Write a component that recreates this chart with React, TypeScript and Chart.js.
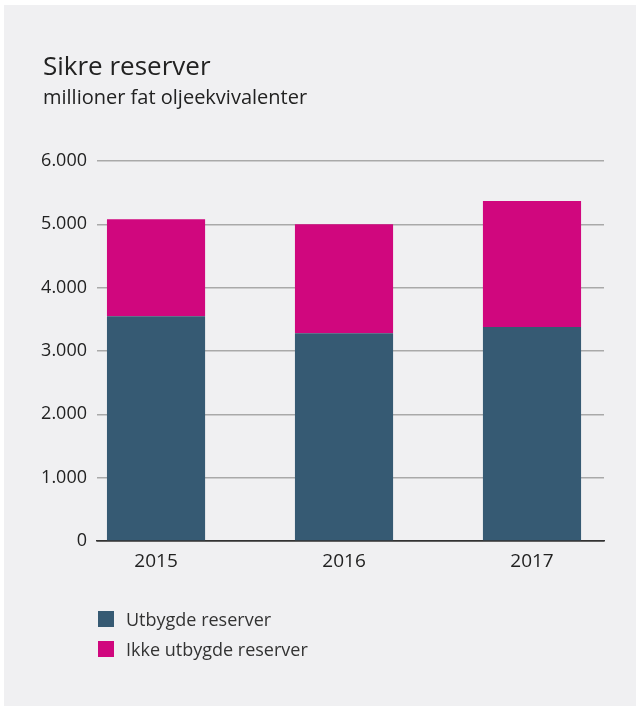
import React, { useEffect, useRef } from "react";
import { Chart, registerables } from "chart.js";

Chart.register(...registerables);

const title = "Sikre reserver";
const subtitle = "millioner fat oljeekvivalenter";
const categories = ["2015", "2016", "2017"];
const seriesNames = ["Utbygde reserver", "Ikke utbygde reserver"];
const utbygde = [3550, 3280, 3380];
const ikkeUtbygde = [1530, 1720, 1990];
const yTicks = [0, 1000, 2000, 3000, 4000, 5000, 6000];
const colors = ["#365a73", "#d0077e"];

const FONT = "'Open Sans', 'DejaVu Sans', sans-serif";

function fmt(v: number): string {
  return String(v).replace(/\B(?=(\d{3})+(?!\d))/g, ".");
}

export default function App() {
  const ref = useRef<HTMLCanvasElement | null>(null);

  useEffect(() => {
    if (!ref.current) return;
    const xs = categories.map((c) => Number(c));
    const chart = new Chart(ref.current, {
      type: "bar",
      data: {
        datasets: [
          {
            label: seriesNames[0],
            data: xs.map((x, i) => ({ x, y: utbygde[i] })),
            backgroundColor: colors[0],
            borderWidth: 0,
            categoryPercentage: 1,
            barPercentage: 0.522,
          },
          {
            label: seriesNames[1],
            data: xs.map((x, i) => ({ x, y: ikkeUtbygde[i] })),
            backgroundColor: colors[1],
            borderWidth: 0,
            categoryPercentage: 1,
            barPercentage: 0.522,
          },
        ],
      },
      options: {
        animation: false,
        responsive: false,
        maintainAspectRatio: false,
        layout: { padding: { left: 0, right: 32, top: 161, bottom: 0 } },
        plugins: {
          legend: { display: false },
          tooltip: { enabled: false },
          title: { display: false },
        },
        scales: {
          x: {
            type: "linear",
            stacked: true,
            offset: false,
            min: 2014.686,
            max: 2017.383,
            afterBuildTicks: (s: any) => {
              s.ticks = xs.map((v) => ({ value: v }));
            },
            afterFit: (s: any) => {
              s.height = 170;
            },
            ticks: {
              callback: (v: any) => {
                const i = xs.indexOf(Number(v));
                return i >= 0 ? categories[i] : "";
              },
              font: { family: FONT, size: 19 },
              color: "#222",
              padding: 9,
              maxRotation: 0,
              autoSkip: false,
            },
            grid: { display: false, drawTicks: false },
            border: { display: true, color: "#333", width: 1.5 },
          },
          y: {
            stacked: true,
            min: 0,
            max: 6000,
            afterBuildTicks: (s: any) => {
              s.ticks = yTicks.map((v) => ({ value: v }));
            },
            afterFit: (s: any) => {
              s.width = 97;
            },
            ticks: {
              callback: (v: any) => fmt(Number(v)),
              font: { family: FONT, size: 18 },
              color: "#222",
              padding: 10,
            },
            grid: {
              drawTicks: false,
              color: (ctx: any) => (ctx.tick && ctx.tick.value === 0 ? "#333" : "#a9a9a9"),
              lineWidth: 1.5,
            },
            border: { display: false },
          },
        },
      },
    });
    return () => chart.destroy();
  }, []);

  return (
    <div style={{ position: "absolute", left: 0, top: 0, width: 636, height: 711, background: "#fff" }}>
      <div
        style={{
          position: "absolute",
          left: 4,
          top: 5,
          width: 632,
          height: 701,
          background: "#f0f0f2",
        }}
      />
      <canvas ref={ref} width={636} height={711} style={{ position: "absolute", left: 0, top: 0 }} />
      <div
        style={{
          position: "absolute",
          left: 43,
          top: 52,
          fontFamily: FONT,
          fontSize: 26,
          lineHeight: "26px",
          color: "#222",
          whiteSpace: "nowrap",
        }}
      >
        {title}
      </div>
      <div
        style={{
          position: "absolute",
          left: 43,
          top: 87,
          fontFamily: FONT,
          fontSize: 20,
          lineHeight: "20px",
          color: "#222",
          whiteSpace: "nowrap",
        }}
      >
        {subtitle}
      </div>
      {seriesNames.map((name, i) => (
        <div
          key={name}
          style={{
            position: "absolute",
            left: 98,
            top: 610 + i * 30,
            height: 18,
            display: "flex",
            alignItems: "center",
            fontFamily: FONT,
            fontSize: 18,
            color: "#333",
            whiteSpace: "nowrap",
          }}
        >
          <span style={{ display: "inline-block", width: 16, height: 16, background: colors[i], marginRight: 12 }} />
          <span>{name}</span>
        </div>
      ))}
    </div>
  );
}
